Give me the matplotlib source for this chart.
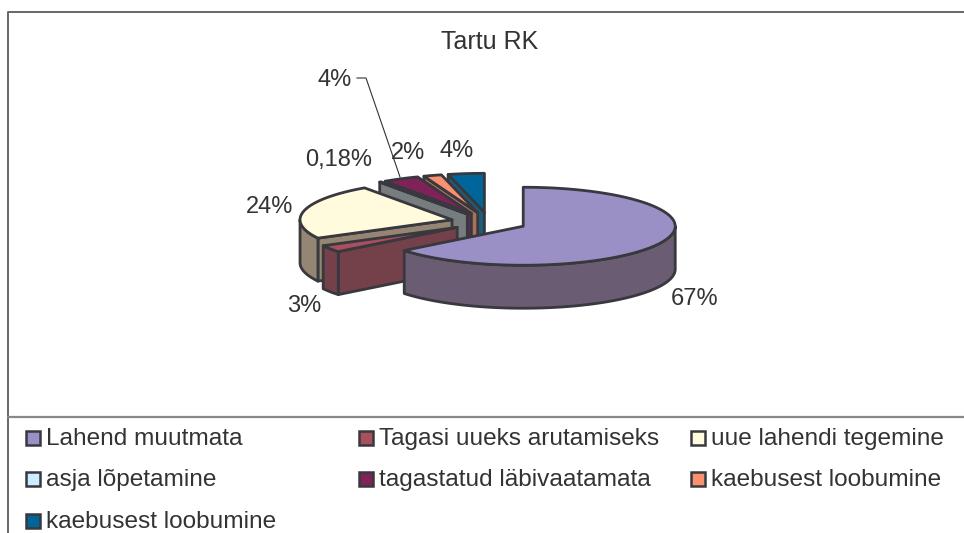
import matplotlib
matplotlib.use('Agg')
import matplotlib.pyplot as plt
import numpy as np

plt.rcParams['font.family'] = ['Liberation Sans', 'DejaVu Sans']

title = 'Tartu RK'
categories = ['Lahend muutmata', 'Tagasi uueks arutamiseks', 'uue lahendi tegemine',
              'asja lõpetamine', 'tagastatud läbivaatamata', 'kaebusest loobumine',
              'kaebusest loobumine']
values = [67, 3, 24, 0.18, 4, 2, 4]
top_colors = ['#9B90C6', '#A9505F', '#FFFBDC', '#CCECFF', '#7F2257', '#F99070', '#006699']
side_colors = ['#6A5C72', '#74404A', '#948672', '#777C7E', '#5E2A48', '#A9705C', '#1F5C78']

# pie layout in image pixels
cx, cy = 489, 222
rx, ry = 152, 39
depth = 43
explode = 0.25
edge = '#38383E'
text_color = '#333333'

label_pos = [(695, 299), (304, 306), (270, 207), (339, 160), (335, 80), (408, 153), (457, 151)]
legend_x = [33, 366, 698]
legend_y = [438, 479, 521]


def rim(theta, ox, oy):
    return ox + rx * np.sin(theta), oy - ry * np.cos(theta)


def draw_slice(ax, a0, a1, top, side):
    mid = (a0 + a1) / 2
    ox = cx + explode * rx * np.sin(mid)
    oy = cy - explode * ry * np.cos(mid)
    t = np.linspace(a0, a1, 120)
    xs, ys = rim(t, ox, oy)
    style = dict(edgecolor=edge, linewidth=2.0, joinstyle='round')
    # walls that face the viewer only
    if np.sin(a0) < 0:
        x, y = rim(a0, ox, oy)
        ax.fill([ox, x, x, ox], [oy, y, y + depth, oy + depth], facecolor=side, **style)
    if np.sin(a1) > 0:
        x, y = rim(a1, ox, oy)
        ax.fill([ox, x, x, ox], [oy, y, y + depth, oy + depth], facecolor=side, **style)
    lo, hi = max(a0, np.pi / 2), min(a1, 3 * np.pi / 2)
    if hi > lo:
        wx, wy = rim(np.linspace(lo, hi, 120), ox, oy)
        ax.fill(np.r_[wx, wx[::-1]], np.r_[wy, wy[::-1] + depth], facecolor=side, **style)
    ax.fill(np.r_[ox, xs], np.r_[oy, ys], facecolor=top, **style)


def main():
    fig = plt.figure(figsize=(9.64, 5.33), dpi=100)
    ax = fig.add_axes([0, 0, 1, 1])
    ax.set_xlim(0, 964)
    ax.set_ylim(533, 0)
    ax.axis('off')

    # outer frame and legend separator
    ax.plot([8, 8, 964], [533, 12, 12], color='#666666', lw=1.4)
    ax.plot([8, 964], [416.5, 416.5], color='#888888', lw=1.6)

    ax.text(490, 42, title, ha='center', va='center', fontsize=18, color=text_color)

    shares = np.array(values) / sum(values) * 2 * np.pi
    ends = np.cumsum(shares)
    starts = ends - shares
    # painter's order: the slices at the back are drawn first
    for i in range(len(values) - 1, -1, -1):
        draw_slice(ax, starts[i], ends[i], top_colors[i], side_colors[i])

    for v, (x, y) in zip(values, label_pos):
        txt = f'{v}%'.replace('.', ',')
        ax.text(x, y, txt, ha='center', va='center', fontsize=17, color=text_color)

    # leader line of the maroon slice label
    ax.plot([357, 366, 400], [78, 78, 177], color=text_color, lw=0.8)

    for i, name in enumerate(categories):
        x = legend_x[i % 3]
        y = legend_y[i // 3]
        ax.fill([x - 7, x + 7, x + 7, x - 7], [y - 7, y - 7, y + 7, y + 7],
                facecolor=top_colors[i], edgecolor=edge, linewidth=1.8)
        ax.text(x + 13, y + 1, name, ha='left', va='center', fontsize=17.6, color=text_color)

    fig.savefig('out.png', dpi=100)


if __name__ == "__main__":
    main()
